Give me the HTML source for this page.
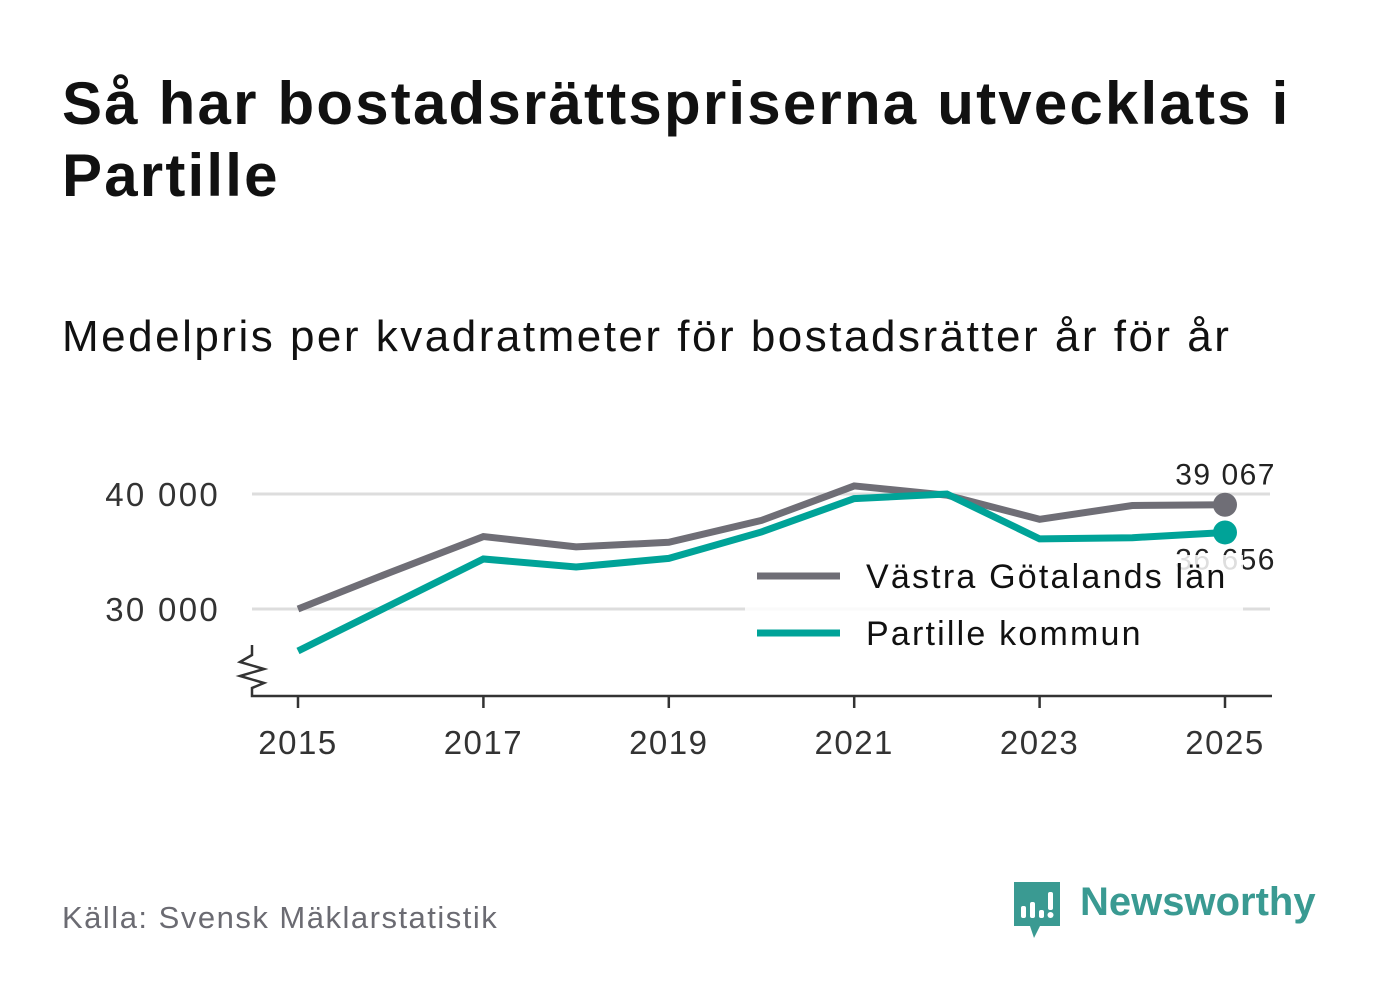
<!DOCTYPE html>
<html><head><meta charset="utf-8"><style>
body{margin:0;background:#fff;font-family:"Liberation Sans",sans-serif;}
#wrap{position:relative;width:1382px;height:999px;overflow:hidden;}
</style></head><body>
<div id="wrap">
<div style="position:absolute;left:62px;top:68px;width:1300px;font-size:60px;font-weight:bold;line-height:72px;color:#111;letter-spacing:2.2px;">Så har bostadsrättspriserna utvecklats i Partille</div>
<div style="position:absolute;left:62px;top:312px;font-size:44px;color:#111;letter-spacing:2.5px;">Medelpris per kvadratmeter för bostadsrätter år för år</div>
<svg id="chart" width="1382" height="999" style="position:absolute;left:0;top:0"></svg>
<div style="position:absolute;left:62px;top:900px;font-size:31px;color:#6b6b72;letter-spacing:1.5px;">Källa: Svensk Mäklarstatistik</div>
<div style="position:absolute;left:1012px;top:880px;">
<svg width="50" height="60" viewBox="0 0 50 60"><path d="M2 2h46v44H28l-6 12-4-12H2z" fill="#3a9a92"/><rect x="9" y="26" width="5" height="12" rx="2" fill="#fff"/><rect x="18" y="22" width="5" height="16" rx="2" fill="#fff"/><rect x="27" y="30" width="5" height="8" rx="2" fill="#fff"/><rect x="36" y="12" width="5" height="18" rx="2" fill="#fff"/><circle cx="38.5" cy="35" r="3" fill="#fff"/></svg>
<span style="position:absolute;left:68px;top:0px;font-size:40px;font-weight:bold;color:#3a9a92;white-space:nowrap;">Newsworthy</span></div>
</div>
<script>
const years=[2015,2016,2017,2018,2019,2020,2021,2022,2023,2024,2025];
const vastra=[30000,33200,36300,35400,35800,37700,40700,39900,37800,39000,39067];
const partille=[26350,30350,34350,33650,34400,36700,39600,40000,36100,36200,36656];
const yTicks=[30000,40000];
const xTicks=[2015,2017,2019,2021,2023,2025];
const NS="http://www.w3.org/2000/svg";
const svg=document.getElementById('chart');
const x=v=>298+(v-2015)*92.7;
const y=v=>494-(v-40000)*0.0115;
const fmt=v=>String(v).replace(/\B(?=(\d{3})+(?!\d))/g,' ');
function mk(t,a,p){const e=document.createElementNS(NS,t);for(const k in a)e.setAttribute(k,a[k]);(p||svg).appendChild(e);return e;}
yTicks.forEach(v=>{
 const g=mk('line',{x1:252,x2:1270,y1:y(v),y2:y(v),stroke:'#ddd','stroke-width':3});
 
 
 const t=mk('text',{x:220,y:y(v)+12,'text-anchor':'end','font-size':33,fill:'#333','letter-spacing':2.3});
 t.textContent=fmt(v);
 
 
});
const ax=mk('path',{d:'M252 645v10l-12 7 24 7-24 7 24 7-12 5v8H1272',fill:'none',stroke:'#333','stroke-width':2.5});


xTicks.forEach(v=>{
 const l=mk('line',{x1:x(v),x2:x(v),y1:695,y2:708,stroke:'#333','stroke-width':2.5});
 
 
 const t=mk('text',{x:x(v),y:754,'text-anchor':'middle','font-size':33,fill:'#333','letter-spacing':1.5});
 t.textContent=v;
 
 
});
function series(vals,col,name){
 const p=mk('polyline',{points:vals.map((v,i)=>x(years[i])+','+y(v)).join(' '),fill:'none',stroke:col,'stroke-width':7,'stroke-linejoin':'miter'});
 
 
 const c=mk('circle',{cx:x(years[years.length-1]),cy:y(vals[vals.length-1]),r:12,fill:col});
 
 
}
series(vastra,'#6f6e76','vastra');
series(partille,'#00a398','partille');
const l1=mk('text',{x:1276,y:y(vastra[10])-20,'text-anchor':'end','font-size':30,fill:'#222','letter-spacing':1.5});
l1.textContent=fmt(vastra[10]);


const l2=mk('text',{x:1276,y:y(partille[10])+37,'text-anchor':'end','font-size':30,fill:'#222','letter-spacing':1.5});
l2.textContent=fmt(partille[10]);


const lb=mk('rect',{x:745,y:555,width:498,height:105,fill:'#fff','fill-opacity':0.85});


[['Västra Götalands län','#6f6e76',576],['Partille kommun','#00a398',633]].forEach(([n,c,yy])=>{
 const l=mk('line',{x1:757,x2:840,y1:yy,y2:yy,stroke:c,'stroke-width':7});
 
 
 const t=mk('text',{x:866,y:yy+12,'font-size':34,fill:'#111','letter-spacing':2.2});
 t.textContent=n;
 
 
});
</script>
</body></html>
